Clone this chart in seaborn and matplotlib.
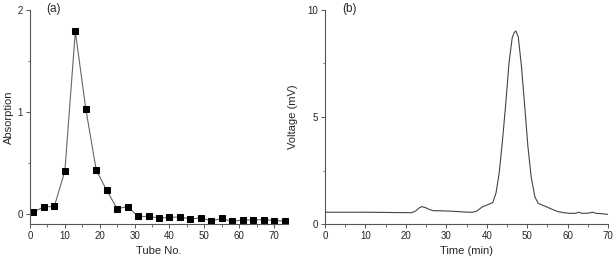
import matplotlib
matplotlib.use("Agg")
import matplotlib.pyplot as plt
import seaborn as sns
import pandas as pd
from matplotlib.ticker import MultipleLocator

# Panel (a) data
tube_no = [1, 4, 7, 10, 13, 16, 19, 22, 25, 28, 31, 34, 37, 40, 43, 46, 49, 52, 55, 58, 61, 64, 67, 70, 73]
absorption = [0.02, 0.066, 0.075, 0.42, 1.79, 1.03, 0.43, 0.23, 0.05, 0.07, -0.026, -0.026, -0.04, -0.036,
              -0.03, -0.05, -0.04, -0.07, -0.046, -0.075, -0.06, -0.062, -0.056, -0.066, -0.072]

# Panel (b) data
time_min = [0, 5, 10, 15, 20, 21.5, 22.5, 23.2, 23.9, 24.8, 25.8, 26.8, 28.3, 31, 33, 35.4, 36.5, 37.5, 39,
            40.5, 41.5, 42.3, 43.1, 43.9, 44.7, 45.5, 46.3, 46.8, 47.2, 47.8, 48.6, 49.4, 50.2, 51.0, 51.9,
            52.7, 53.5, 54.7, 56, 57.6, 59, 60.5, 62, 62.8, 63.5, 64.6, 65.5, 66.2, 67, 68.5, 70]
voltage = [0.55, 0.55, 0.55, 0.54, 0.53, 0.53, 0.62, 0.74, 0.81, 0.77, 0.68, 0.62, 0.62, 0.6, 0.58, 0.55,
           0.55, 0.6, 0.81, 0.92, 1.0, 1.45, 2.4, 3.9, 5.6, 7.5, 8.7, 8.95, 9.02, 8.75, 7.35, 5.5, 3.6, 2.2,
           1.28, 0.97, 0.9, 0.81, 0.7, 0.58, 0.53, 0.5, 0.5, 0.55, 0.5, 0.5, 0.52, 0.55, 0.5, 0.48, 0.45]

sns.set_style("ticks")
plt.rcParams['font.family'] = ['Liberation Sans', 'DejaVu Sans']

fig = plt.figure(figsize=(6.14, 2.59), dpi=100)
ax1 = fig.add_axes([30/614, 1-224/259, (288-30)/614, (224-10)/259])
ax2 = fig.add_axes([325/614, 1-224/259, (608-325)/614, (224-10)/259])

df_a = pd.DataFrame({"tube": tube_no, "abs": absorption})
sns.lineplot(data=df_a, x="tube", y="abs", ax=ax1, color="#666666", linewidth=0.8,
             marker="s", markersize=4, markerfacecolor="black", markeredgecolor="black")
df_b = pd.DataFrame({"t": time_min, "v": voltage})
sns.lineplot(data=df_b, x="t", y="v", ax=ax2, color="#444444", linewidth=0.8)

ax1.set_xlim(0, 74)
ax1.set_ylim(-0.1, 2)
ax1.xaxis.set_major_locator(MultipleLocator(10))
ax1.xaxis.set_minor_locator(MultipleLocator(5))
ax1.yaxis.set_major_locator(MultipleLocator(1))
ax1.yaxis.set_minor_locator(MultipleLocator(0.5))
ax1.set_xlabel("Tube No.", fontsize=8)
ax1.set_ylabel("Absorption", fontsize=8, labelpad=3)

ax2.set_xlim(0, 70)
ax2.set_ylim(0, 10)
ax2.xaxis.set_major_locator(MultipleLocator(10))
ax2.xaxis.set_minor_locator(MultipleLocator(5))
ax2.yaxis.set_major_locator(MultipleLocator(5))
ax2.yaxis.set_minor_locator(MultipleLocator(2.5))
ax2.set_xlabel("Time (min)", fontsize=8)
ax2.set_ylabel("Voltage (mV)", fontsize=8, labelpad=7)

for ax in (ax1, ax2):
    for s in ("top", "right"):
        ax.spines[s].set_visible(False)
    for s in ("left", "bottom"):
        ax.spines[s].set_color("#555555")
        ax.spines[s].set_linewidth(0.8)
    ax.tick_params(which="major", length=3, width=0.7, color="#555555", labelsize=7, pad=2)
    ax.tick_params(which="minor", length=1.8, width=0.6, color="#555555")

fig.text(46/614, 1-12/259, "(a)", fontsize=8.5)
fig.text(342/614, 1-12/259, "(b)", fontsize=8.5)

fig.savefig("out.png", dpi=100)
